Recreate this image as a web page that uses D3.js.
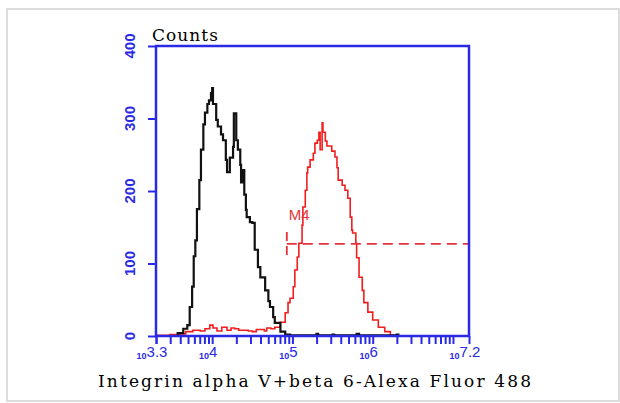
<!DOCTYPE html>
<html>
<head>
<meta charset="utf-8">
<script src="https://cdn.jsdelivr.net/npm/d3@7"></script>
<style>
  body { margin: 0; background: #fff; }
</style>
</head>
<body>
<div class="vis"></div>
<script>
// log10 fluorescence (x) and counts (y)
var blackLog = [3.30, 3.54, 3.57, 3.64, 3.69, 3.72, 3.75, 3.77, 3.79, 3.81, 3.84, 3.86, 3.89, 3.91, 3.94, 3.96, 3.985, 4.00, 4.01, 4.05, 4.07, 4.11, 4.135, 4.17, 4.185, 4.22, 4.26, 4.27, 4.30, 4.32, 4.35, 4.36, 4.38, 4.40, 4.42, 4.43, 4.47, 4.50, 4.53, 4.57, 4.60, 4.66, 4.70, 4.72, 4.76, 4.78, 4.85, 4.91, 4.97, 5.3, 5.32, 5.5, 5.52, 5.8, 5.83, 6.3, 6.32, 7.2];
var blackCounts = [0, 0, 4, 10, 15, 40, 68, 110, 132, 175, 215, 257, 292, 308, 320, 325, 335, 342, 320, 298, 289, 278, 270, 243, 226, 246, 261, 307, 270, 257, 236, 212, 229, 195, 174, 164, 157, 156, 119, 95, 81, 63, 48, 40, 26, 18, 6, 2, 1, 3, 1, 2, 1, 3, 1, 2, 0, 0];

var redLog = [3.30, 3.47, 3.60, 3.67, 3.76, 3.85, 3.91, 3.97, 4.01, 4.06, 4.12, 4.185, 4.235, 4.28, 4.33, 4.38, 4.45, 4.50, 4.55, 4.60, 4.65, 4.68, 4.73, 4.78, 4.85, 4.91, 4.945, 4.97, 5.01, 5.03, 5.06, 5.08, 5.12, 5.13, 5.16, 5.18, 5.19, 5.22, 5.26, 5.28, 5.31, 5.33, 5.345, 5.37, 5.38, 5.41, 5.43, 5.47, 5.49, 5.53, 5.555, 5.57, 5.62, 5.655, 5.69, 5.72, 5.74, 5.75, 5.79, 5.80, 5.83, 5.87, 5.89, 5.94, 6.00, 6.07, 6.15, 6.22, 6.30, 7.2];
var redCounts = [1, 2, 3, 6, 8, 7, 10, 15, 11, 7, 12, 8, 11, 10, 8, 8, 7, 6, 9, 9, 7, 11, 10, 12, 19, 32, 46, 52, 68, 91, 109, 128, 153, 178, 201, 225, 233, 243, 252, 266, 270, 281, 257, 294, 281, 269, 262, 262, 255, 247, 232, 215, 208, 201, 190, 164, 146, 142, 128, 108, 81, 63, 46, 33, 22, 12, 6, 1, 0, 0];

var yTicks = [0, 100, 200, 300, 400];
var xTickLabels = ["3.3", "4", "5", "6", "7.2"];
var markerName = "M4";
var markerRange = [4.93, 7.2];
var markerCount = 127;

var w = 620, h = 403;
var margin = {top: 46, right: 151, bottom: 67, left: 156};

var svg = d3.select(".vis").append("svg")
    .attr("width", w)
    .attr("height", h);

// light grey frame around the picture
svg.append("rect")
    .attr("x", 7).attr("y", 9)
    .attr("width", 612).attr("height", 392)
    .attr("fill", "none")
    .attr("stroke", "#dcdcdc")
    .attr("stroke-width", 2);

var xScale = d3.scaleLinear()
    .domain([3.3, 7.2])
    .range([margin.left, w - margin.right]);

var yScale = d3.scaleLinear()
    .domain([0, 400])
    .range([h - margin.bottom, margin.top]);

var blue = "#2a2ae6";

// minor/major tick positions on the log axis
var xTickVals = [3.3];
for (var k = 3; k <= 7; k++) {
    for (var n = 1; n <= 9; n++) {
        var v = k + Math.log10(n);
        if (v > 3.3 && v < 7.2) xTickVals.push(v);
    }
}
xTickVals.push(7.2);

// histograms
var line = d3.line()
    .x(function(d) { return xScale(d[0]); })
    .y(function(d) { return yScale(d[1]); })
    .curve(d3.curveStepAfter);

svg.append("path")
    .datum(d3.zip(redLog, redCounts))
    .attr("d", line)
    .attr("fill", "none")
    .attr("stroke", "#f21d1d")
    .attr("stroke-width", 1.6);

svg.append("path")
    .datum(d3.zip(blackLog, blackCounts))
    .attr("d", line)
    .attr("fill", "none")
    .attr("stroke", "#111")
    .attr("stroke-width", 2.2);

// marker M4
var mk = svg.append("g").attr("class", "marker");
mk.append("line")
    .attr("x1", xScale(markerRange[0])).attr("x2", xScale(markerRange[1]))
    .attr("y1", yScale(markerCount)).attr("y2", yScale(markerCount))
    .attr("stroke", "#e8333a").attr("stroke-width", 1.8)
    .attr("stroke-dasharray", "10,6");
markerRange.forEach(function(m) {
    mk.append("line")
        .attr("x1", xScale(m)).attr("x2", xScale(m))
        .attr("y1", yScale(markerCount) - 12).attr("y2", yScale(markerCount) + 13)
        .attr("stroke", "#e8333a").attr("stroke-width", 1.8)
        .attr("stroke-dasharray", "9,5");
});
mk.append("text")
    .attr("x", xScale(markerRange[0]) + 2)
    .attr("y", yScale(markerCount) - 24)
    .attr("fill", "#e8333a")
    .style("font-family", "Liberation Sans, Arial, sans-serif")
    .style("font-size", "15px")
    .text(markerName);

// axes
var xAxis = d3.axisBottom(xScale).tickValues(xTickVals).tickSize(8).tickFormat("");
var yAxis = d3.axisLeft(yScale).tickValues(yTicks).tickSize(8).tickFormat("");

var gx = svg.append("g")
    .attr("transform", "translate(0," + yScale(0) + ")")
    .call(xAxis);
var gy = svg.append("g")
    .attr("transform", "translate(" + margin.left + ",0)")
    .call(yAxis);
[gx, gy].forEach(function(g) {
    g.selectAll("line").attr("stroke", blue).attr("stroke-width", 2);
    g.select(".domain").remove();
});

// plot box
svg.append("rect")
    .attr("x", xScale(3.3)).attr("y", yScale(400))
    .attr("width", xScale(7.2) - xScale(3.3))
    .attr("height", yScale(0) - yScale(400))
    .attr("fill", "none")
    .attr("stroke", blue)
    .attr("stroke-width", 2.5);

// y labels, rotated
svg.selectAll(".ylab")
    .data(yTicks)
    .enter()
    .append("text")
    .attr("class", "ylab")
    .attr("transform", function(d) { return "translate(135," + yScale(d) + ") rotate(-90)"; })
    .attr("text-anchor", "middle")
    .attr("fill", blue)
    .style("font-family", "Liberation Sans, Arial, sans-serif")
    .style("font-weight", "bold")
    .style("font-size", "15px")
    .text(function(d) { return d; });

// x labels: small "10" followed by exponent
var xl = svg.selectAll(".xlab")
    .data(xTickLabels)
    .enter()
    .append("text")
    .attr("class", "xlab")
    .attr("x", function(d) { return xScale(+d) - 4; })
    .attr("y", 357)
    .attr("text-anchor", "middle")
    .attr("fill", blue)
    .style("font-family", "Liberation Sans, Arial, sans-serif")
    .style("font-weight", "bold");
xl.append("tspan")
    .style("font-size", "9px")
    .attr("dy", 2)
    .text("10");
xl.append("tspan")
    .style("font-size", "15px")
    .style("font-weight", "normal")
    .attr("dy", -2)
    .text(function(d) { return d; });

// titles
svg.append("text")
    .attr("x", 152).attr("y", 41)
    .style("font-family", "DejaVu Serif, serif")
    .style("font-size", "17px")
    .attr("textLength", 66)
    .attr("lengthAdjust", "spacing")
    .text("Counts");

svg.append("text")
    .attr("x", 98).attr("y", 387)
    .style("font-family", "DejaVu Serif, serif")
    .style("font-size", "17px")
    .attr("textLength", 433)
    .attr("lengthAdjust", "spacing")
    .text("Integrin alpha V+beta 6-Alexa Fluor 488");
</script>
</body>
</html>
